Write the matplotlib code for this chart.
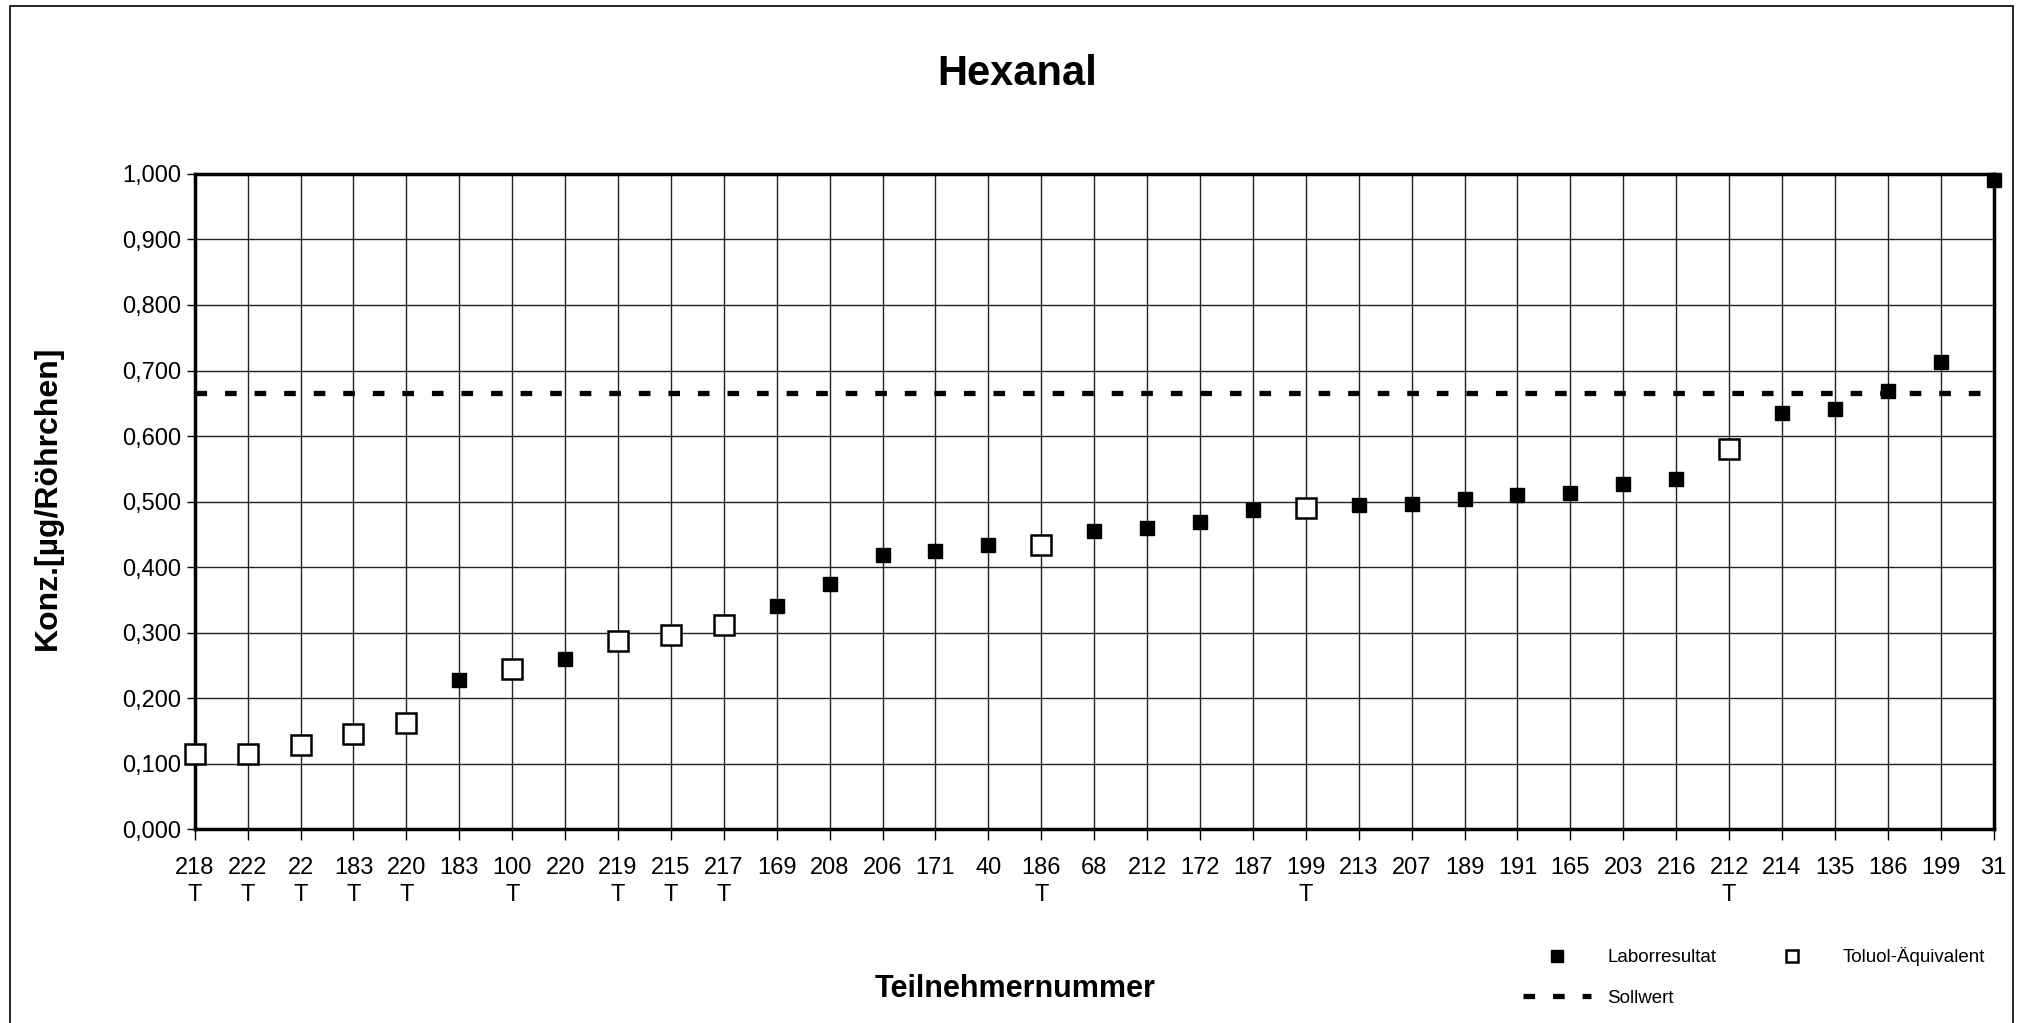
import matplotlib.pyplot as plt
from matplotlib.lines import Line2D
from matplotlib.patches import Rectangle
from matplotlib.ticker import FuncFormatter

participants = ["218", "222", "22", "183", "220", "183", "100", "220", "219", "215",
                "217", "169", "208", "206", "171", "40", "186", "68", "212", "172",
                "187", "199", "213", "207", "189", "191", "165", "203", "216", "212",
                "214", "135", "186", "199", "31"]
toluol = [True, True, True, True, True, False, True, False, True, True,
          True, False, False, False, False, False, True, False, False, False,
          False, True, False, False, False, False, False, False, False, True,
          False, False, False, False, False]
values = [0.115, 0.115, 0.128, 0.145, 0.162, 0.228, 0.245, 0.260, 0.288, 0.297,
          0.311, 0.340, 0.374, 0.418, 0.424, 0.433, 0.434, 0.455, 0.460, 0.469,
          0.487, 0.490, 0.495, 0.497, 0.504, 0.510, 0.513, 0.527, 0.535, 0.580,
          0.635, 0.641, 0.668, 0.713, 0.990]
sollwert = 0.665
y_ticks = [0.0, 0.1, 0.2, 0.3, 0.4, 0.5, 0.6, 0.7, 0.8, 0.9, 1.0]

plt.rcParams["font.family"] = ["Liberation Sans", "DejaVu Sans"]

fig = plt.figure(figsize=(20.35, 10.23), dpi=100, facecolor="white")
ax = fig.add_axes([0.0957, 0.1894, 0.884, 0.6406])

x = list(range(len(values)))
x_lab = [i for i in x if not toluol[i]]
y_lab = [values[i] for i in x if not toluol[i]]
x_tol = [i for i in x if toluol[i]]
y_tol = [values[i] for i in x if toluol[i]]

ax.set_xlim(0, len(values) - 1)
ax.set_ylim(0, 1.0)

ax.set_yticks(y_ticks)
ax.yaxis.set_major_formatter(FuncFormatter(lambda v, p: f"{v:.3f}".replace(".", ",")))
ax.set_xticks(x)
ax.set_xticklabels([p + ("\nT" if t else "") for p, t in zip(participants, toluol)],
                   linespacing=1.32)

ax.tick_params(axis="x", direction="out", length=8, width=1, pad=12, labelsize=17)
ax.tick_params(axis="y", direction="out", length=6, width=1, pad=4, labelsize=17)

ax.grid(True, color="#222222", linewidth=1.0)
ax.set_axisbelow(True)
for side in ("left", "bottom", "right", "top"):
    ax.spines[side].set_linewidth(2.5)
    ax.spines[side].set_color("black")

ax.axhline(sollwert, color="black", linewidth=3.8, dashes=(2.2, 3.4), zorder=3)

ax.plot(x_lab, y_lab, linestyle="none", marker="s", markersize=10.5,
        markerfacecolor="black", markeredgecolor="black", zorder=4, clip_on=False)
ax.plot(x_tol, y_tol, linestyle="none", marker="s", markersize=15,
        markerfacecolor="white", markeredgecolor="black", markeredgewidth=1.8,
        zorder=4, clip_on=False)

fig.text(0.5, 0.928, "Hexanal", fontsize=30, fontweight="bold",
         ha="center", va="center")
fig.text(0.0236, 0.513, "Konz.[µg/Röhrchen]", fontsize=23, fontweight="bold",
         rotation=90, ha="center", va="center")
fig.text(0.499, 0.033, "Teilnehmernummer", fontsize=22, fontweight="bold",
         ha="center", va="center")

handles = [
    Line2D([], [], linestyle="none", marker="s", markersize=8,
           markerfacecolor="black", markeredgecolor="black"),
    Line2D([], [], color="black", linewidth=3.8, dashes=(2.2, 3.4)),
    Line2D([], [], linestyle="none", marker="s", markersize=8,
           markerfacecolor="white", markeredgecolor="black", markeredgewidth=1.8),
]
labels = ["Laborresultat", "Sollwert", "Toluol-Äquivalent"]
fig.legend(handles, labels, ncol=2, loc="center", bbox_to_anchor=(0.862, 0.045),
           frameon=False, fontsize=13.5, handlelength=3.6, columnspacing=2.25,
           labelspacing=1.25, handletextpad=0.9)

fig.patches.append(Rectangle((10 / 2035, -0.01), 2003 / 2035, 1.004,
                             transform=fig.transFigure, fill=False,
                             edgecolor="black", linewidth=1.2))

fig.savefig("out.png")
